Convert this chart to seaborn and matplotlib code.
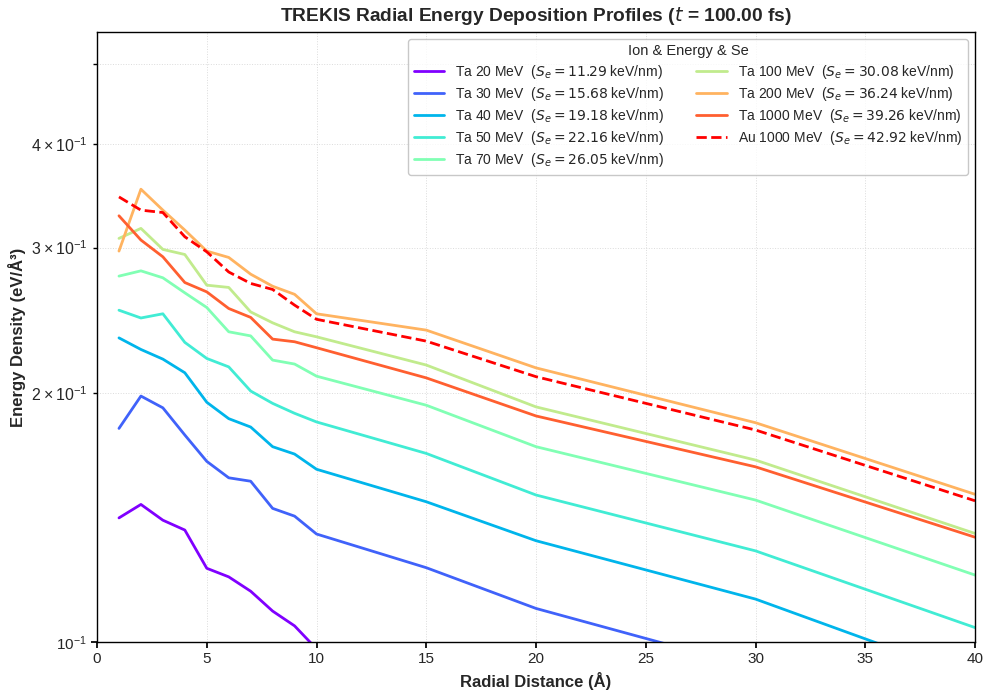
import numpy as np
import pandas as pd
import matplotlib
matplotlib.use("Agg")
import matplotlib.pyplot as plt
import seaborn as sns

# ---------------- data ----------------
radius = [1, 2, 3, 4, 5, 6, 7, 8, 9, 10, 15, 20, 30, 40]

ions = ["Ta", "Ta", "Ta", "Ta", "Ta", "Ta", "Ta", "Ta", "Au"]
energies = [20, 30, 40, 50, 70, 100, 200, 1000, 1000]
se_values = [11.29, 15.68, 19.18, 22.16, 26.05, 30.08, 36.24, 39.26, 42.92]

ta20 = [0.1413, 0.1467, 0.1404, 0.1366, 0.1228, 0.1199, 0.1152, 0.1090, 0.1046, 0.0981, 0.088, 0.079, 0.066, 0.053]
ta30 = [0.1813, 0.1984, 0.1920, 0.1780, 0.1654, 0.1580, 0.1565, 0.1451, 0.1420, 0.1351, 0.1230, 0.1098, 0.0929, 0.0748]
ta40 = [0.2333, 0.2259, 0.2199, 0.2117, 0.1950, 0.1863, 0.1820, 0.1723, 0.1688, 0.1618, 0.1478, 0.1326, 0.1127, 0.0903]
ta50 = [0.2520, 0.2466, 0.2495, 0.2304, 0.2203, 0.2152, 0.2012, 0.1944, 0.1891, 0.1846, 0.1691, 0.1506, 0.1289, 0.1041]
ta70 = [0.2771, 0.2812, 0.2758, 0.2645, 0.2539, 0.2373, 0.2346, 0.2193, 0.2169, 0.2097, 0.1934, 0.1723, 0.1485, 0.1205]
ta100 = [0.3078, 0.3165, 0.2985, 0.2943, 0.2702, 0.2685, 0.2508, 0.2433, 0.2373, 0.2340, 0.2163, 0.1925, 0.1660, 0.1353]
ta200 = [0.2971, 0.3530, 0.3330, 0.3150, 0.2971, 0.2919, 0.2786, 0.2694, 0.2634, 0.2495, 0.2384, 0.2146, 0.1842, 0.1509]
ta1000 = [0.3278, 0.3064, 0.2924, 0.2722, 0.2652, 0.2532, 0.2470, 0.2325, 0.2308, 0.2270, 0.2087, 0.1877, 0.1629, 0.1339]
au1000 = [0.3455, 0.3330, 0.3308, 0.3092, 0.2965, 0.2803, 0.2715, 0.2670, 0.2556, 0.2457, 0.2312, 0.2094, 0.1805, 0.1482]

series = [ta20, ta30, ta40, ta50, ta70, ta100, ta200, ta1000, au1000]

# ---------------- style ----------------
sns.set_theme(style="ticks")
plt.rcParams["font.family"] = ["Liberation Sans", "DejaVu Sans"]
plt.rcParams["mathtext.fontset"] = "dejavusans"

fig, ax = plt.subplots(figsize=(9.84, 6.98), dpi=100)
fig.subplots_adjust(left=0.0986, right=0.9909, top=0.9542, bottom=0.0802)

cmap = plt.get_cmap("rainbow")
n = len(series)
colors = [cmap(i / (n - 1)) for i in range(n)]

for i, (ion, en, se, vals) in enumerate(zip(ions, energies, se_values, series)):
    label = f"{ion} {en} MeV  ($S_e = {se:.2f}$ keV/nm)"
    df = pd.DataFrame({"r": radius, "E": vals})
    ls = "--" if ion == "Au" else "-"
    sns.lineplot(data=df, x="r", y="E", ax=ax, color=colors[i], linewidth=2.0,
                 linestyle=ls, label=label)

ax.set_yscale("log")
ax.set_xlim(0, 40)
ax.set_ylim(0.1, 0.547)

ax.grid(True, which="both", linestyle=":", linewidth=0.7, color="#cccccc", alpha=0.7)
for s in ax.spines.values():
    s.set_color("black")
    s.set_linewidth(1.0)
ax.tick_params(axis="both", which="major", labelsize=11, length=4, color="black")
ax.tick_params(axis="y", which="minor", labelsize=11.5, length=3, color="black")

ax.set_xlabel("Radial Distance (Å)", fontsize=12, fontweight="bold")
ax.set_ylabel("Energy Density (eV/Å³)", fontsize=12, fontweight="bold")
ax.set_title("TREKIS Radial Energy Deposition Profiles ($t$ = 100.00 fs)",
             fontsize=13.8, fontweight="bold", pad=8)

leg = ax.legend(title="Ion & Energy & Se", ncol=2, loc="upper right",
                fontsize=10, title_fontsize=10.5, frameon=True,
                handlelength=2.2, columnspacing=2.3, borderpad=0.4,
                labelspacing=0.3)
leg.get_frame().set_edgecolor("#bbbbbb")

fig.savefig("out.png", dpi=100)
